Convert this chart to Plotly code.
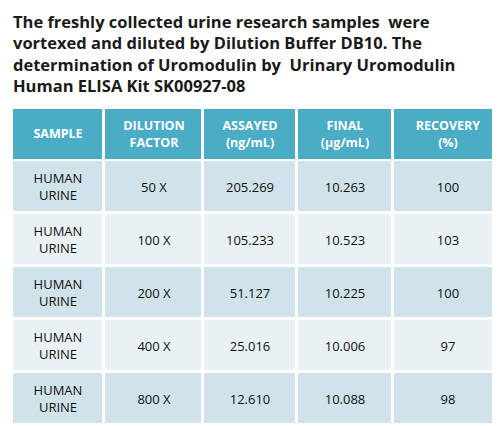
import plotly.graph_objects as go

headers = ["SAMPLE", "DILUTION<br>FACTOR", "ASSAYED<br>(ng/mL)", "FINAL<br>(µg/mL)", "RECOVERY<br>(%)"]
samples = ["HUMAN<br>URINE"] * 5
dilution = ["50 X", "100 X", "200 X", "400 X", "800 X"]
assayed = ["205.269", "105.233", "51.127", "25.016", "12.610"]
final = ["10.263", "10.523", "10.225", "10.006", "10.088"]
recovery = ["100", "103", "100", "97", "98"]

# layout of the table in page pixels
col_edges = [4, 96, 195, 289, 385, 494]
header_edges = [101, 151]
row_edges = [152, 205, 258, 311, 364, 417]

body_text = [list(r) for r in zip(samples, dilution, assayed, final, recovery)]
body_z = [[i % 2] * 5 for i in range(5)]

fig = go.Figure()
fig.add_trace(go.Heatmap(
    x=col_edges, y=header_edges, z=[[0] * 5],
    text=[["<b>" + h + "</b>" for h in headers]], texttemplate="%{text}",
    textfont=dict(family="Open Sans", size=12.5, color="white"),
    colorscale=[[0, "#4bacc6"], [1, "#4bacc6"]], showscale=False,
    xgap=3, ygap=0, hoverinfo="skip",
))
fig.add_trace(go.Heatmap(
    x=col_edges, y=row_edges, z=body_z, zmin=0, zmax=1,
    text=body_text, texttemplate="%{text}",
    textfont=dict(family="Open Sans", size=13, color="#111111"),
    colorscale=[[0, "#d0e3ea"], [1, "#e9f1f4"]], showscale=False,
    xgap=3, ygap=3, hoverinfo="skip",
))

fig.add_annotation(
    text="<b>The freshly collected urine research samples  were<br>"
         "vortexed and diluted by Dilution Buffer DB10. The<br>"
         "determination of Uromodulin by  Urinary Uromodulin<br>"
         "Human ELISA Kit SK00927-08</b>",
    x=3, y=0, xref="x", yref="y", xanchor="left", yanchor="top",
    showarrow=False, align="left",
    font=dict(family="Open Sans", size=16.5, color="#1a1a1a"),
)

fig.update_xaxes(range=[0, 500], visible=False)
fig.update_yaxes(range=[426, 0], visible=False)
fig.update_layout(
    width=500, height=426,
    margin=dict(l=0, r=0, t=0, b=0),
    paper_bgcolor="white", plot_bgcolor="white",
)

fig.write_html("out.html")
